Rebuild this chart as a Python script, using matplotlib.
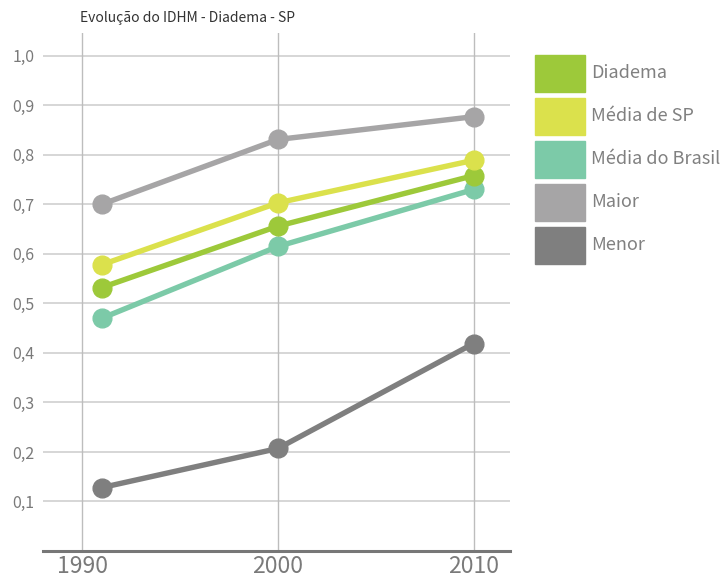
import matplotlib
matplotlib.use('Agg')
import matplotlib.pyplot as plt
from matplotlib.patches import Rectangle

years = [1991, 2000, 2010]
series_names = ['Diadema', 'Média de SP', 'Média do Brasil', 'Maior', 'Menor']
diadema = [0.532, 0.656, 0.758]
media_sp = [0.578, 0.703, 0.789]
media_brasil = [0.470, 0.615, 0.730]
maior = [0.700, 0.831, 0.877]
menor = [0.128, 0.207, 0.419]
colors = ['#9dc93a', '#dbe14c', '#7ccaa8', '#a6a5a6', '#7f7f7f']
yticks = [0.1, 0.2, 0.3, 0.4, 0.5, 0.6, 0.7, 0.8, 0.9, 1.0]
xticks = [1990, 2000, 2010]

plt.rcParams['font.family'] = ['Noto Sans CJK JP', 'DejaVu Sans']

W, H = 725, 579
fig = plt.figure(figsize=(W / 100, H / 100), dpi=100)
ax = fig.add_axes([43 / W, 1 - 551 / H, (510 - 43) / W, (551 - 33) / H])

for y in yticks:
    ax.axhline(y, color='#cfcfcf', lw=1.2, zorder=1)
for x in xticks:
    ax.axvline(x, color='#bdbdbd', lw=1.0, zorder=1)

# draw bottom-most series first so the upper ones lie above
order = [4, 3, 2, 0, 1]
data = [diadema, media_sp, media_brasil, maior, menor]
for i in order:
    ax.plot(years, data[i], color=colors[i], lw=3.9, marker='o',
            markersize=13.5, zorder=3)

ax.set_xlim(1988.0, 2011.86)
ax.set_ylim(0, 1.046)
ax.set_yticks(yticks)
ax.set_yticklabels([('%.1f' % v).replace('.', ',') for v in yticks],
                   fontsize=11.5, color='#7a7a7a')
ax.set_xticks(xticks)
ax.set_xticklabels([str(x) for x in xticks], fontsize=16.5, color='#7a7a7a')
ax.tick_params(length=0, pad=6)
ax.tick_params(axis='x', pad=3)
for s in ['top', 'right', 'left']:
    ax.spines[s].set_visible(False)
ax.spines['bottom'].set_color('#777777')
ax.spines['bottom'].set_linewidth(2.2)

fig.text(80 / W, 1 - 18 / H, 'Evolução do IDHM - Diadema - SP',
         fontsize=10, color='#333333', va='center', ha='left')

# legend
for k, name in enumerate(series_names):
    top = 55 + k * 43
    fig.add_artist(Rectangle((535 / W, 1 - (top + 37) / H), 50 / W, 37 / H,
                             color=colors[k], transform=fig.transFigure))
    fig.text(591 / W, 1 - (top + 18) / H, name, fontsize=13,
             color='#808080', va='center', ha='left')

fig.savefig('out.png', dpi=100)
